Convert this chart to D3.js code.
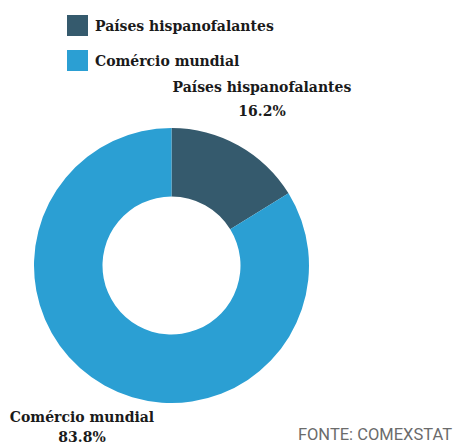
<!DOCTYPE html>
<meta charset="utf-8">
<script src="https://d3js.org/d3.v7.min.js"></script>
<style>
body { margin: 0; background: #fff; }
.lbl { font-family: "DejaVu Serif", serif; fill: #1a1a1a; }
</style>
<div id="chart"></div>
<script>
// data
var categories = ["Países hispanofalantes", "Comércio mundial"];
var shares = [16.2, 83.8];
var colors = ["#355a6d", "#2b9fd3"];

var width = 458, height = 446;
var cx = 171.5, cy = 265.5, outerR = 137.5, innerR = 69;

var svg = d3.select("#chart").append("svg")
  .attr("width", width)
  .attr("height", height);

var data = categories.map(function(c, i) { return {name: c, value: shares[i]}; });

var color = d3.scaleOrdinal().domain(categories).range(colors);

var pie = d3.pie().sort(null).value(function(d) { return d.value; });
var arc = d3.arc().innerRadius(innerR).outerRadius(outerR);

var g = svg.append("g").attr("transform", "translate(" + cx + "," + cy + ")");
g.selectAll("path")
  .data(pie(data))
  .enter().append("path")
    .attr("d", arc)
    .attr("fill", function(d) { return color(d.data.name); });

// legend
var legend = svg.selectAll(".legend")
  .data(categories)
  .enter().append("g")
    .attr("transform", function(d, i) { return "translate(67," + (15 + i * 35) + ")"; });
legend.append("rect")
  .attr("width", 21).attr("height", 21)
  .attr("fill", function(d) { return color(d); });
legend.append("text")
  .attr("class", "lbl")
  .attr("x", 28).attr("y", 16)
  .style("font-size", "14px")
  .style("font-weight", "bold")
  .text(function(d) { return d; });

// slice labels
var labelPos = [[262, 92], [82, 422]];
var labels = svg.selectAll(".slice-label")
  .data(data)
  .enter().append("text")
    .attr("class", "lbl")
    .attr("text-anchor", "middle")
    .attr("x", function(d, i) { return labelPos[i][0]; })
    .attr("y", function(d, i) { return labelPos[i][1]; })
    .style("font-size", "14px")
    .style("font-weight", "bold");
labels.append("tspan").text(function(d) { return d.name; });
labels.append("tspan")
  .attr("x", function(d, i) { return labelPos[i][0]; })
  .attr("dy", function(d, i) { return i === 0 ? 24 : 20; })
  .text(function(d) { return d.value.toFixed(1) + "%"; });

// source
svg.append("text")
  .attr("x", 452).attr("y", 440)
  .attr("text-anchor", "end")
  .style("font-family", "Roboto, sans-serif")
  .style("font-size", "16.5px")
  .style("fill", "#6b6b6b")
  .text("FONTE: COMEXSTAT");
</script>
